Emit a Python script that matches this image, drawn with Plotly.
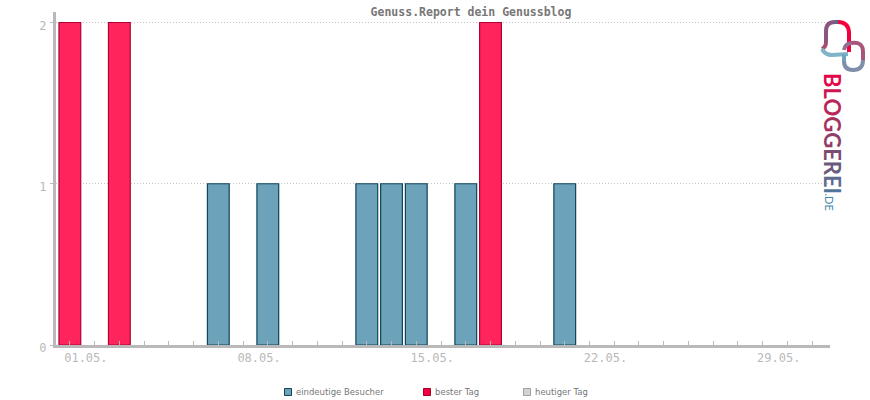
import plotly.graph_objects as go

days = list(range(1, 32))
visitors = {7: 1, 9: 1, 13: 1, 14: 1, 15: 1, 17: 1, 21: 1}
best = {1: 2, 3: 2, 18: 2}
today = {}
tick_labels = {1: "01.05.", 8: "08.05.", 15: "15.05.", 22: "22.05.", 29: "29.05."}
legend_names = ["eindeutige Besucher", "bester Tag", "heutiger Tag"]

W, H = 870, 400
L, R, T, B = 56, 830, 12, 345
MONO = "DejaVu Sans Mono"
GREY = "#b9b9b9"


def series(d):
    return [d.get(x) for x in days]


fig = go.Figure()
fig.add_bar(x=days, y=series(visitors), name=legend_names[0], width=0.88, showlegend=False,
            marker=dict(color="#6ca2ba", line=dict(color="#0f4559", width=1.2)))
fig.add_bar(x=days, y=series(best), name=legend_names[1], width=0.88, showlegend=False,
            marker=dict(color="#ff255c", line=dict(color="#b00035", width=1.2)))
fig.add_bar(x=days, y=series(today), name=legend_names[2], width=0.88, showlegend=False,
            marker=dict(color="#d3d3d3", line=dict(color="#a8a8a8", width=1.2)))


def px(x):
    return (x - L) / (R - L)


def py(y):
    return (B - y) / (B - T)


def link(points, color, width=4):
    fig.add_shape(type="path", xref="paper", yref="paper", path=points,
                  line=dict(color=color, width=width), layer="above")


def P(cmds):
    out = []
    for c, vals in cmds:
        pairs = []
        for i in range(0, len(vals), 2):
            pairs.append(f"{px(vals[i]):.5f},{py(vals[i + 1]):.5f}")
        out.append(c + " ".join(pairs))
    return " ".join(out)


# Logo: two chain links
link(P([("M", [826, 42]), ("L", [826, 31]), ("Q", [826, 22, 835, 22])]), "#8a5580")
link(P([("M", [835, 22]), ("L", [838, 22])]), "#4f6f90")
link(P([("M", [838, 22]), ("Q", [848, 22, 849, 32]), ("L", [849, 52])]), "#f5003d")
link(P([("M", [826, 42]), ("Q", [826, 47, 822, 49])]), "#a84c72")
link(P([("M", [822, 49]), ("Q", [825, 55, 832, 55]), ("L", [848, 54])]), "#7fb3c8")
link(P([("M", [851, 43]), ("Q", [863, 41, 863, 52]), ("L", [863, 60])]), "#a8557c")
link(P([("M", [863, 60]), ("Q", [863, 70, 853, 70]), ("Q", [844, 70, 844, 61])]), "#7f8fab")
link(P([("M", [844, 61]), ("L", [844, 54])]), "#6fa5bd")
link(P([("M", [844, 50]), ("Q", [845, 44, 851, 43])]), "#8f6f95")

letters = ["B", "L", "O", "G", "G", "E", "R", "E", "I"]
letter_colors = ["#e3064a", "#cf1552", "#b9265b", "#a53360", "#8f4068",
                 "#7c4c72", "#6b5a80", "#5d6b8f", "#52769a"]
word = "".join(f'<span style="color:{c}">{t}</span>' for t, c in zip(letters, letter_colors))

fig.add_annotation(xref="paper", yref="paper", x=px(833), y=py(133), text="<b>" + word + "</b>",
                   showarrow=False, textangle=90,
                   font=dict(family="Lato", size=22, color="#8f4068"),
                   xanchor="center", yanchor="middle")
fig.add_annotation(xref="paper", yref="paper", x=px(829.5), y=py(202), text=".DE", showarrow=False,
                   textangle=90, font=dict(family="Lato", size=11, color="#3f85aa"),
                   xanchor="center", yanchor="middle")

# Legend row
legend_swatch_x = [284.5, 423.5, 523.5]
legend_fill = ["#6ca2ba", "#f5003d", "#d3d3d3"]
legend_line = ["#0f4559", "#a00032", "#a0a0a0"]
for name, sx, fc, lc in zip(legend_names, legend_swatch_x, legend_fill, legend_line):
    fig.add_shape(type="rect", xref="paper", yref="paper",
                  x0=px(sx), x1=px(sx + 7), y0=py(388.5), y1=py(395.5),
                  fillcolor=fc, line=dict(color=lc, width=1))
    fig.add_annotation(xref="paper", yref="paper", x=px(sx + 11), y=py(392), text=name,
                       showarrow=False, xanchor="left", yanchor="middle", borderpad=0, borderwidth=0,
                       font=dict(family="DejaVu Sans", size=8.5, color="#777777"))

fig.update_layout(
    width=W, height=H, autosize=False,
    margin=dict(l=L, r=W - R, t=T, b=H - B),
    plot_bgcolor="white", paper_bgcolor="white",
    barmode="overlay",
    showlegend=False,
    title=dict(text="<b>Genuss.Report dein Genussblog</b>", x=471 / W, xanchor="center",
               xref="container", y=1 - 11.5 / H, yanchor="middle",
               font=dict(family=MONO, size=11.5, color="#777777")),
    xaxis=dict(range=[0.44, 31.72], tickmode="array", tickvals=days,
               ticktext=[tick_labels.get(d, "") for d in days],
               ticks="inside", ticklen=4, tickwidth=1, tickcolor=GREY,
               ticklabelshift=16, ticklabelstandoff=0,
               showline=True, linecolor=GREY, linewidth=3,
               showgrid=False, zeroline=False,
               tickfont=dict(family=MONO, size=12, color=GREY)),
    yaxis=dict(range=[0, 2.065], tickmode="array", tickvals=[0, 1, 2],
               ticks="outside", ticklen=3, tickwidth=1, tickcolor=GREY,
               ticklabelshift=3, ticklabelstandoff=1,
               showline=True, linecolor=GREY, linewidth=3,
               showgrid=True, gridcolor="#c4c4c4", griddash="1px,2px", gridwidth=1,
               zeroline=False,
               tickfont=dict(family=MONO, size=12, color=GREY)),
)
fig.write_html("out.html", config=dict(displayModeBar=False),
               post_script="document.body.style.margin='0';")
